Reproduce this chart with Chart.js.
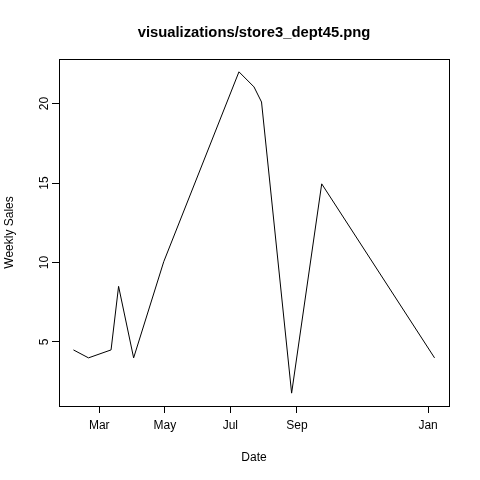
<!DOCTYPE html>
<html>
<head>
<meta charset="utf-8">
<script src="https://cdn.jsdelivr.net/npm/chart.js@4/dist/chart.umd.min.js"></script>
<style>
html,body{margin:0;padding:0;background:#fff;}
#wrap{width:480px;height:480px;}
</style>
</head>
<body>
<div id="wrap"><canvas id="c" width="480" height="480"></canvas></div>
<script>
const dates = ['2010-02-05','2010-02-19','2010-03-12','2010-03-19','2010-04-02','2010-04-30','2010-07-09','2010-07-23','2010-07-30','2010-08-27','2010-09-24','2011-01-07'];
const sales = [4.5, 4.0, 4.5, 8.5, 4.0, 10.05, 22.0, 21.05, 20.1, 1.78, 14.95, 4.0];
const xTickDates = ['2010-03-01','2010-05-01','2010-07-01','2010-09-01','2011-01-01'];
const xTickLabels = ['Mar','May','Jul','Sep','Jan'];
const yTicks = [5, 10, 15, 20];

function dayNum(s){const p=s.split('-').map(Number);return Date.UTC(p[0],p[1]-1,p[2])/86400000;}
const xs = dates.map(dayNum);
const xTickVals = xTickDates.map(dayNum);
const pts = xs.map((x,i)=>({x:x,y:sales[i]}));

const xmin=Math.min(...xs), xmax=Math.max(...xs), xr=xmax-xmin;
const ymin=Math.min(...sales), ymax=Math.max(...sales), yr=ymax-ymin;

const FONT='"Liberation Sans", Arial, sans-serif';

const boxPlugin={
  id:'box',
  afterDraw(chart){
    const a=chart.chartArea, ctx=chart.ctx;
    ctx.save();
    ctx.strokeStyle='#000';ctx.lineWidth=1;
    ctx.strokeRect(Math.round(a.left)+0.5,Math.round(a.top)+0.5,Math.round(a.right-a.left),Math.round(a.bottom-a.top));
    ctx.restore();
  }
};

new Chart(document.getElementById('c'),{
  type:'line',
  data:{datasets:[{data:pts,borderColor:'#000',borderWidth:1,pointRadius:0,tension:0,fill:false}]},
  options:{
    responsive:false,animation:false,devicePixelRatio:1,
    layout:{padding:{left:0,right:31,top:0,bottom:0}},
    plugins:{
      legend:{display:false},tooltip:{enabled:false},
      title:{display:true,fullSize:false,text:'visualizations/store3_dept45.png',color:'#000',
        font:{family:FONT,size:14.8,weight:'bold'},padding:{top:24.5,bottom:16.7}}
    },
    scales:{
      x:{type:'linear',min:xmin-0.04*xr,max:xmax+0.04*xr,
        afterBuildTicks(s){s.ticks=xTickVals.map(v=>({value:v}));},
        afterFit(s){s.height=74;},
        ticks:{autoSkip:false,color:'#000',font:{family:FONT,size:12},padding:5,maxRotation:0,
          callback(v){const i=xTickVals.indexOf(v);return i>=0?xTickLabels[i]:'';}},
        grid:{display:true,drawOnChartArea:false,drawTicks:true,tickLength:7,color:'#000',lineWidth:1},
        border:{display:false},
        title:{display:true,text:'Date',color:'#000',font:{family:FONT,size:12},padding:{top:0,bottom:15}}
      },
      y:{type:'linear',min:ymin-0.04*yr,max:ymax+0.04*yr,
        afterBuildTicks(s){s.ticks=yTicks.map(v=>({value:v}));},
        afterFit(s){s.width=59;},
        ticks:{autoSkip:false,color:'#000',font:{family:FONT,size:12},padding:1,minRotation:90,maxRotation:90,crossAlign:'center',
          callback(v){return String(v);}},
        grid:{display:true,drawOnChartArea:false,drawTicks:true,tickLength:7,color:'#000',lineWidth:1},
        border:{display:false},
        title:{display:true,text:'Weekly Sales',color:'#000',font:{family:FONT,size:12},padding:{top:2,bottom:0}}
      }
    }
  },
  plugins:[boxPlugin]
});
</script>
</body>
</html>
